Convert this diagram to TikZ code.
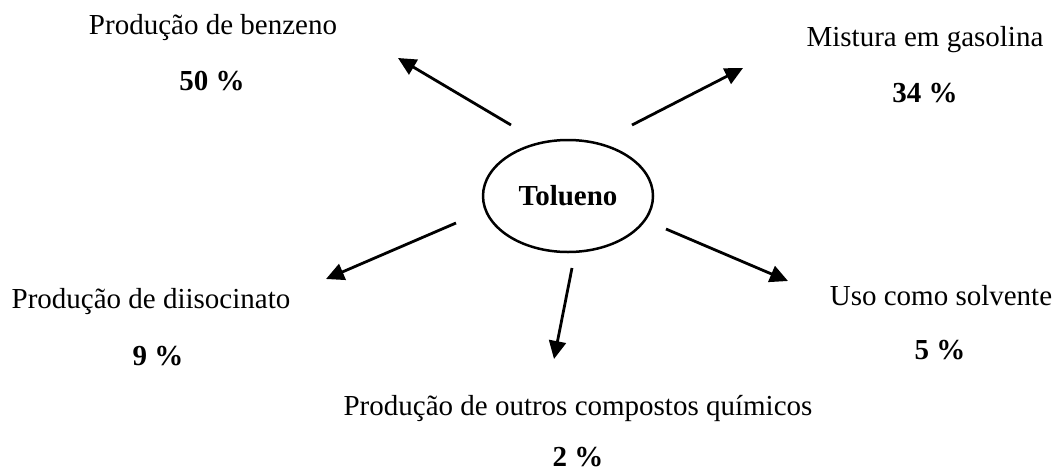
\documentclass[tikz,border=0pt]{standalone}
\usepackage{fontspec}
\setmainfont{Liberation Serif}
\usetikzlibrary{arrows.meta,shapes.geometric}
\begin{document}
\begin{tikzpicture}[x=1pt,y=-1pt,
  lbl/.style={inner sep=0pt,font=\fontsize{29}{34}\selectfont},
  pct/.style={inner sep=0pt,font=\fontsize{29}{34}\selectfont\bfseries},
  arr/.style={line width=2.8pt,-{Triangle[length=18pt,width=17pt]}}]
\useasboundingbox (0,0) rectangle (1057,472);
\node[draw,ellipse,line width=2.5pt,minimum width=170pt,minimum height=112pt,inner sep=0pt,font=\fontsize{29}{34}\selectfont\bfseries] (tol) at (568,196) {Tolueno};
\node[lbl] (benz) at (213,28) {Produção de benzeno};
\node[pct] (p50) at (212,81) {50 \%};
\node[lbl] (gas) at (925,40) {Mistura em gasolina};
\node[pct] (p34) at (925,93) {34 \%};
\node[lbl] (dii) at (151,302) {Produção de diisocinato};
\node[pct] (p9) at (158,356) {9 \%};
\node[lbl] (solv) at (941,296) {Uso como solvente};
\node[pct] (p5) at (940,350) {5 \%};
\node[lbl] (outr) at (578,408) {Produção de outros compostos químicos};
\node[pct] (p2) at (578,457) {2 \%};
\coordinate (s1) at (511,125); \coordinate (e1) at (398,58);
\coordinate (s2) at (632,125); \coordinate (e2) at (743,68);
\coordinate (s3) at (456,223); \coordinate (e3) at (326,279);
\coordinate (s4) at (572,268); \coordinate (e4) at (554,359);
\coordinate (s5) at (666,229); \coordinate (e5) at (788,281);
\draw[arr] (s1) -- (e1);
\draw[arr] (s2) -- (e2);
\draw[arr] (s3) -- (e3);
\draw[arr] (s4) -- (e4);
\draw[arr] (s5) -- (e5);
\end{tikzpicture}
\end{document}
